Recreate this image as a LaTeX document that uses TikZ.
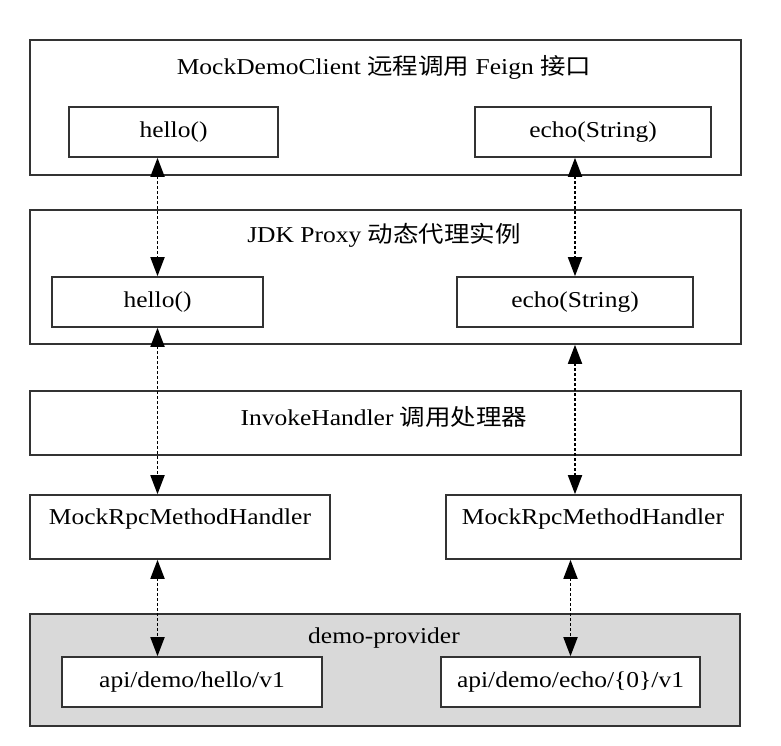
\documentclass[tikz,border=0pt]{standalone}
\usepackage{graphicx}
\usepackage{fontspec}
\setmainfont{Liberation Serif}
\newfontfamily\cjk{Noto Sans CJK SC}
\usetikzlibrary{arrows.meta}
\newcommand{\sq}[1]{\scalebox{1}[0.89]{#1}}
\begin{document}
\begin{tikzpicture}[x=1pt,y=-1pt,
  box/.style={draw=black!80, line width=1.6pt, inner sep=0pt, fill=white},
  ttl/.style={inner sep=0pt, font=\fontsize{25.5}{30}\selectfont},
  arr/.style={line width=1.8pt, dash pattern=on 3pt off 2pt,
    {Triangle[width=14pt,length=19pt]}-{Triangle[width=14pt,length=19pt]}}]
\useasboundingbox (0,0) rectangle (781,746);
% top: client
\node[box, minimum width=711pt, minimum height=135pt] (A) at (385.5,107.5) {};
\node[ttl] (At) at (384,67) {\sq{MockDemoClient {\cjk 远程调用} Feign {\cjk 接口}}};
\node[box, ttl, minimum width=209pt, minimum height=50pt] (Ah) at (173.5,132) {\sq{hello()}};
\node[box, ttl, minimum width=236pt, minimum height=50pt] (Ae) at (593,132) {\sq{echo(String)}};
% proxy
\node[box, minimum width=711pt, minimum height=134pt] (B) at (385.5,277) {};
\node[ttl] (Bt) at (384,235) {\sq{JDK Proxy {\cjk 动态代理实例}}};
\node[box, ttl, minimum width=211pt, minimum height=50pt] (Bh) at (157.5,302) {\sq{hello()}};
\node[box, ttl, minimum width=236pt, minimum height=50pt] (Be) at (575,302) {\sq{echo(String)}};
% invoke handler
\node[box, minimum width=711pt, minimum height=64pt] (C) at (385.5,423) {};
\node[ttl] (Ct) at (384,417) {\sq{InvokeHandler {\cjk 调用处理器}}};
% method handlers
\node[box, minimum width=300pt, minimum height=64pt] (Ml) at (180,527) {};
\node[ttl] (Mlt) at (180,519) {\sq{MockRpcMethodHandler}};
\node[box, minimum width=295pt, minimum height=64pt] (Mr) at (593.5,527) {};
\node[ttl] (Mrt) at (593,519) {\sq{MockRpcMethodHandler}};
% provider
\node[box, fill=gray!30, minimum width=710pt, minimum height=112pt] (D) at (385,670) {};
\node[ttl] (Dt) at (384,638) {\sq{demo-provider}};
\node[box, ttl, minimum width=260pt, minimum height=50pt] (Dh) at (192,682) {\sq{api/demo/hello/v1}};
\node[box, ttl, minimum width=259pt, minimum height=50pt] (De) at (570.5,682) {\sq{api/demo/echo/\{0\}/v1}};
% connectors
\draw[arr] (Ah.south -| Bh.north) -- (Bh.north);
\draw[arr] (Ae.south -| Be.north) -- (Be.north);
\draw[arr] (Bh.south) -- (Bh.south |- Ml.north);
\draw[arr] (B.south -| Be.south) -- (Be.south |- Mr.north);
\draw[arr] (Bh.south |- Ml.south) -- (Bh.south |- Dh.north);
\draw[arr] (De.north |- Mr.south) -- (De.north);
\end{tikzpicture}
\end{document}
